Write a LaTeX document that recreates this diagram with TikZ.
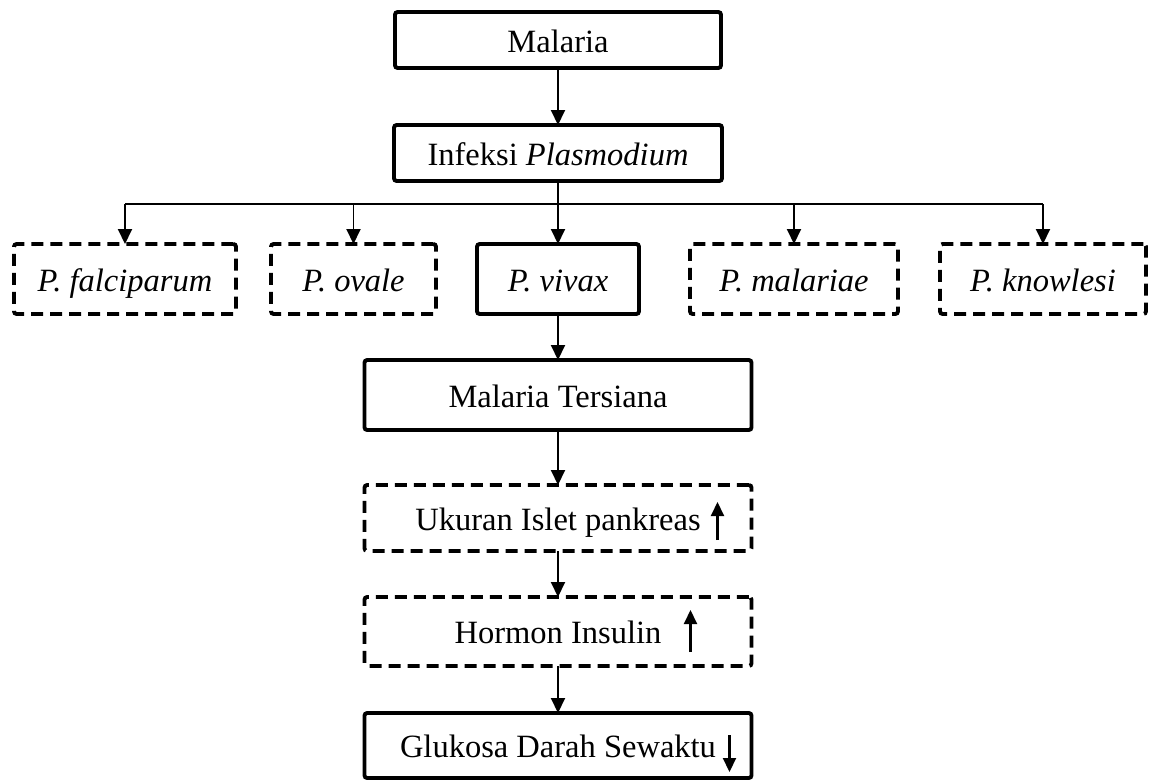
\documentclass[tikz,border=0pt]{standalone}
\usepackage{fontspec}
\setmainfont{Liberation Serif}
\usetikzlibrary{shapes,arrows.meta,positioning,calc}

\begin{document}
\begin{tikzpicture}[
  box/.style={rectangle,draw,line width=2.2pt,rounded corners=1.5pt,outer sep=0pt,minimum height=1.4cm,
    text height=15pt,text depth=1.3pt,font=\fontsize{18.5}{22}\selectfont},
  dbox/.style={box,dash pattern=on 0.24cm off 0.14cm},
  flow/.style={-{Triangle[length=0.3cm,width=0.28cm]},line width=1.1pt},
  trend/.style={-{Triangle[length=0.28cm,width=0.26cm]},line width=1.2pt}]

  \useasboundingbox (0,0) rectangle (23.02,-15.66);

  \node[box,minimum width=6.52cm,minimum height=1.12cm] (malaria) at (11.16,-0.8) {Malaria};
  \node[box,minimum width=6.56cm,minimum height=1.12cm,below=1.14cm of malaria] (infeksi) {Infeksi \textit{Plasmodium}};
  \node[box,minimum width=3.24cm,below=1.26cm of infeksi] (vivax) {\textit{P. vivax}};
  \node[dbox,minimum width=3.3cm,left=0.82cm of vivax] (ovale) {\textit{P. ovale}};
  \node[dbox,minimum width=4.44cm,left=0.7cm of ovale] (falciparum) {\textit{P. falciparum}};
  \node[dbox,minimum width=4.16cm,right=1.02cm of vivax] (malariae) {\textit{P. malariae}};
  \node[dbox,minimum width=4.12cm,right=0.84cm of malariae] (knowlesi) {\textit{P. knowlesi}};
  \node[box,minimum width=7.74cm,below=0.92cm of vivax] (tersiana) {Malaria Tersiana};
  \node[dbox,minimum width=7.74cm,minimum height=1.32cm,below=1.1cm of tersiana] (ukuran) {Ukuran Islet pankreas};
  \node[dbox,minimum width=7.74cm,minimum height=1.38cm,below=0.92cm of ukuran] (hormon) {Hormon Insulin};
  \node[box,minimum width=7.74cm,minimum height=1.3cm,below=0.94cm of hormon] (glukosa) {Glukosa Darah Sewaktu};

  % branch line under Infeksi Plasmodium
  \coordinate (bus) at (0,-4.08);
  \draw[line width=1.1pt] (falciparum.north |- bus) -- (knowlesi.north |- bus);
  \foreach \sp in {falciparum,ovale,malariae,knowlesi}
    \draw[flow] (\sp.north |- bus) -- (\sp.north);

  \draw[flow] (malaria) -- (infeksi);
  \draw[flow] (infeksi) -- (vivax);
  \draw[flow] (vivax) -- (tersiana);
  \draw[flow] (tersiana) -- (ukuran);
  \draw[flow] (ukuran) -- (hormon);
  \draw[flow] (hormon) -- (glukosa);

  % up / down marks beside the texts
  \coordinate (ukuran_lo) at ($(ukuran.center)+(3.19,-0.44)$);
  \coordinate (ukuran_hi) at ($(ukuran.center)+(3.19,0.32)$);
  \coordinate (hormon_lo) at ($(hormon.center)+(2.65,-0.41)$);
  \coordinate (hormon_hi) at ($(hormon.center)+(2.65,0.43)$);
  \coordinate (glukosa_hi) at ($(glukosa.center)+(3.43,0.21)$);
  \coordinate (glukosa_lo) at ($(glukosa.center)+(3.43,-0.53)$);
  \draw[trend] (ukuran_lo) -- (ukuran_hi);
  \draw[trend] (hormon_lo) -- (hormon_hi);
  \draw[trend] (glukosa_hi) -- (glukosa_lo);

\end{tikzpicture}
\end{document}
